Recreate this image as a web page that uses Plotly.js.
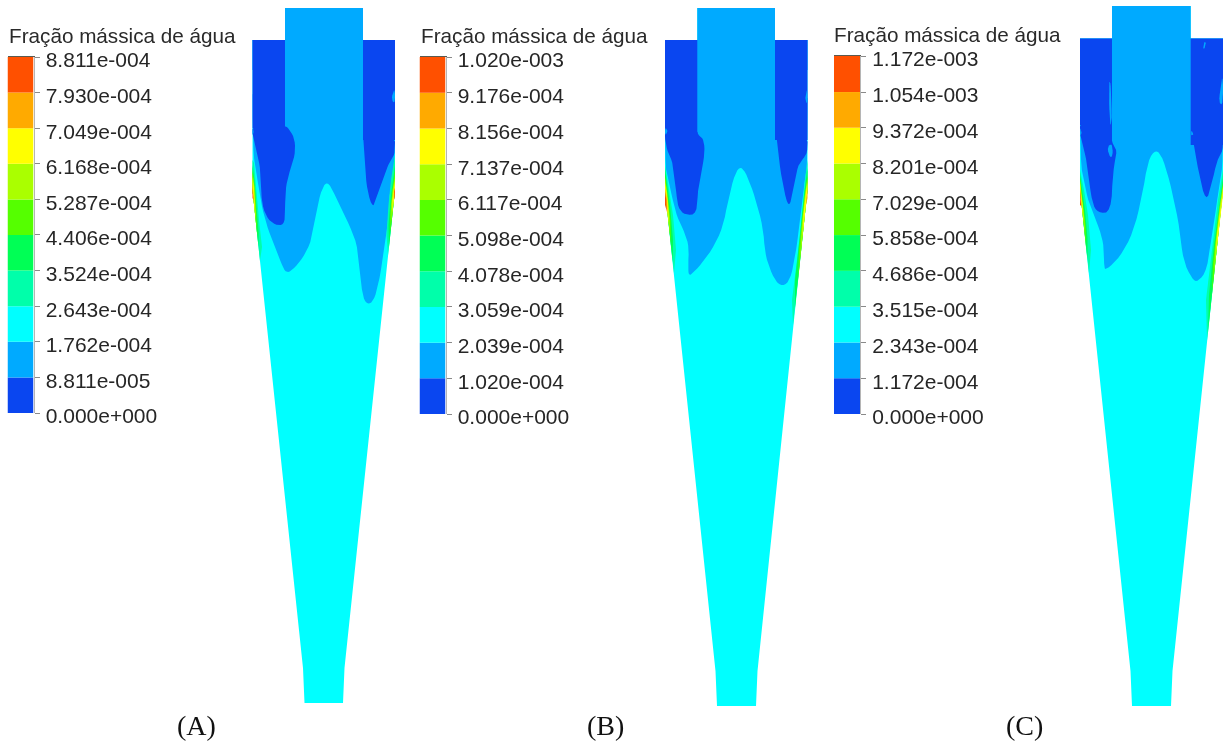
<!DOCTYPE html>
<html>
<head>
<meta charset="utf-8">
<script src="https://cdn.plot.ly/plotly-3.0.1.min.js"></script>
<style>html,body{margin:0;padding:0;background:#fff}#chart{width:1225px;height:742px;filter:blur(0.45px)}</style>
</head>
<body>
<div id="chart"></div>
<script>
// ---------- Colour-scale tick labels ----------
const ticksA = ["8.811e-004","7.930e-004","7.049e-004","6.168e-004","5.287e-004","4.406e-004","3.524e-004","2.643e-004","1.762e-004","8.811e-005","0.000e+000"];
const ticksB = ["1.020e-003","9.176e-004","8.156e-004","7.137e-004","6.117e-004","5.098e-004","4.078e-004","3.059e-004","2.039e-004","1.020e-004","0.000e+000"];
const ticksC = ["1.172e-003","1.054e-003","9.372e-004","8.201e-004","7.029e-004","5.858e-004","4.686e-004","3.515e-004","2.343e-004","1.172e-004","0.000e+000"];
// band colours, lowest band first
const bandColors = ["#0a46f0","#00aaff","#00ffff","#00ffaa","#00ff55","#55ff00","#aaff00","#ffff00","#ffaa00","#ff5000"];
const legendTitle = "Fração mássica de água";
const panelLabels = ["(A)","(B)","(C)"];

// ---------- Contour regions: [x, y] on the sheet ----------
const A_body = [[252.5,40],[252.5,190],[303,668],[304.5,703],[343,703],[344.5,668],[395,190],[395,40],[363,40],[363,8],[285,8],[285,40]];
const A_tube = [[285,8],[363,8],[363,60],[285,60]];
const A_top  = [[252.5,40],[395,40],[395,70],[252.5,70]];
const A_light = [[252.5,60],[395,60],[395,155],[394,170],[390,187],[389,210],[387,230],[380,277],[375,298],[369,305],[363,299],[360,273],[357,243],[347,220],[335,195],[327,180],[320,193],[315,223],[310,245],[300,262],[290,272],[285,272],[280,260],[272,240],[265,220],[260,197],[256,170],[253,152]];
const A_darkL = [[252.5,40],[285,40],[285,128],[252.5,128]];
const A_blobL = [[252.5,125],[285,125],[290,130],[295,140],[295,155],[290,170],[286,185],[285,205],[285,223],[278,226],[268,220],[262,205],[261,185],[260,165],[255,147],[252.5,135]];
const A_darkR = [[363,40],[395,40],[395,140],[363,140]];
const A_blobR = [[363,135],[395,135],[395,153],[392,158],[388,165],[383,180],[378,195],[373,209],[367,190],[365,165],[363.5,140]];
const A_spots = [[[395,88],[392,95],[392,101],[395,103]],[[252.5,127],[254,131],[252.5,136]]];
const A_wall = [
 [[[252.5,160],[252.5,190],[260,261],[262,247],[259,220],[257,197],[254,163]], [[395,155],[395,190],[388,255],[386.5,235],[388.5,205],[391,180]]],
 [[[252.5,165],[252.5,190],[258.5,247],[258.7,233],[256.5,207],[254.5,180]], [[395,165],[395,190],[389,247],[388.5,225],[391,195]]],
 [[[252.5,170],[252.5,190],[257.3,236],[256.7,217],[255.3,193]], [[395,170],[395,190],[390.5,232],[390,215],[392.5,190]]],
 [[[252.5,173],[252.5,190],[256.3,226],[255.3,210],[254.3,187]], [[395,178],[395,190],[391.7,220],[391.3,205],[393,188]]],
 [[[252.5,177],[252.5,190],[255.5,218],[254.7,203],[253.7,187]], [[395,182],[395,190],[392.5,212],[392.5,200],[393.7,190]]],
 [[[252.5,183],[252.5,190],[254.5,208],[253.3,193]], [[395,187],[395,190],[393.8,200],[393.8,195]]],
 [[[252.5,188],[252.5,198],[253.5,200],[253.2,194]], [[395,188],[395,200],[394.5,198],[394.2,192]]]
];

const B_body = [[665,40],[665,190],[715.5,671],[717,706],[756,706],[757.5,671],[807.5,190],[807.5,40],[775,40],[775,8],[697.3,8],[697.3,40]];
const B_tube = [[697.3,8],[775,8],[775,60],[697.3,60]];
const B_top  = [[665,40],[807.5,40],[807.5,70],[665,70]];
const B_light = [[665,60],[807.5,60],[807.5,163],[805,177],[803,197],[798,237],[793,270],[787,285],[778,285],[770,270],[765,253],[763,227],[755,197],[747,175],[741,166],[735,173],[728,200],[723,227],[712,250],[698,268],[689,277],[688,267],[689,247],[685,233],[677,217],[672,197],[668,177],[665,165]];
const B_darkL = [[665,40],[697.3,40],[697.3,135],[665,135]];
const B_blobL = [[665,130],[697.3,130],[698,135],[703,138],[705,150],[702,170],[698,187],[697,214],[685,215],[678,208],[676,190],[673,163],[668,153],[665,140]];
const B_darkR = [[775,40],[807.5,40],[807.5,140],[775,140]];
const B_blobR = [[776,130],[807.5,135],[807.5,153],[802,160],[798,165],[793,190],[789,209],[783,187],[778,153]];
const B_spots = [[[807.5,88],[805.5,95],[805.5,101],[807.5,104]],[[665,127],[668,131],[665,136]]];
const B_wall = [
 [[[665,165],[665,190],[674,273],[676,250],[673,215],[669,190]], [[807.5,160],[807.5,190],[793,325],[792,300],[797,260],[802,215],[805,180]]],
 [[[665,170],[665,190],[672.7,262],[673,240],[670,205],[667,185]], [[807.5,168],[807.5,190],[795,308],[795,280],[800,235],[804,195]]],
 [[[665,175],[665,190],[671,245],[670.5,220],[667.5,195]], [[807.5,175],[807.5,190],[798,280],[799,250],[803.5,205]]],
 [[[665,178],[665,190],[670,235],[669.3,215],[667,192]], [[807.5,178],[807.5,190],[800,261],[802,225],[805,195]]],
 [[[665,183],[665,190],[668.8,226],[668,205],[666.5,192]], [[807.5,182],[807.5,190],[802.5,237],[803.5,215],[806,192]]],
 [[[665,188],[665,190],[668,215],[667,200]], [[807.5,188],[807.5,198],[805.7,207],[806.5,195]]],
 [[[665,192],[665,205],[667,212],[666.3,200]], []]
];

const C_body = [[1080,38.5],[1080,190],[1130.5,671],[1132,706],[1171,706],[1172.5,671],[1223,190],[1223,38.5],[1190.7,38.5],[1190.7,6],[1112,6],[1112,38.5]];
const C_tube = [[1112,6],[1190.7,6],[1190.7,60],[1112,60]];
const C_top  = [[1080,38.5],[1223,38.5],[1223,70],[1080,70]];
const C_light = [[1080,60],[1223,60],[1223,163],[1220,180],[1213,230],[1207,270],[1198,282],[1192,279],[1183,260],[1180,230],[1172,190],[1163,158],[1156,149],[1148,160],[1142,197],[1133,233],[1120,257],[1106,270],[1104,267],[1104,247],[1100,230],[1090,207],[1085,187],[1080,160]];
const C_darkL = [[1080,38.5],[1112,38.5],[1112,125],[1080,125]];
const C_blobL = [[1080,120],[1112,120],[1112,127],[1111.5,143],[1117.5,150],[1113,170],[1111,212],[1098,213],[1092,203],[1088,170],[1085,153],[1080,137]];
const C_darkR = [[1190.7,38.5],[1223,38.5],[1223,145],[1190.7,145]];
const C_blobR = [[1190.7,130],[1223,130],[1223,151],[1217,160],[1212,183],[1206,203],[1198,170],[1194,143]];
const C_spots = [[[1109,80],[1111,85],[1112,125],[1110,125],[1109,100]],[[1107,147],[1112,143],[1113,155],[1110,158]],[[1204,42],[1206,42],[1205,48],[1203,49]],[[1223,73],[1220,90],[1219,103],[1223,105]],[[1080,127],[1082,132],[1080,137]],[[1191,130],[1194,134],[1191,136]]];
const C_wall = [
 [[[1080,170],[1080,190],[1089,273],[1091,250],[1088,215],[1084,190]], [[1223,170],[1223,190],[1207,340],[1206,300],[1212,250],[1218,200]]],
 [[[1080,175],[1080,190],[1087.5,260],[1087.5,238],[1085,210],[1082,190]], [[1223,178],[1223,190],[1208,332],[1209,295],[1214,245],[1220,200]]],
 [[[1080,178],[1080,190],[1086,247],[1085.5,225],[1082,197]], [[1223,183],[1223,190],[1212,294],[1213,262],[1218,218]]],
 [[[1080,180],[1080,190],[1085,235],[1084,215],[1081.5,195]], [[1223,186],[1223,190],[1214,275],[1215.5,245],[1220,205]]],
 [[[1080,183],[1080,190],[1083.5,222],[1082.5,205],[1081,193]], [[1223,188],[1223,195],[1216,255],[1217,235],[1221,205]]],
 [[[1080,187],[1080,190],[1082.5,212],[1081.5,200]], []],
 [[[1080,190],[1080,205],[1081.2,206],[1080.8,197]], []]
];

const W = 1225, H = 742;
const FONT = '"Liberation Sans", Arial, sans-serif';
const traces = [];

// round a traced outline by corner cutting, which cannot cross the walls
function rounded(pts) {
  let out = pts;
  for (let it = 0; it < 2; it++) {
    const nxt = [];
    out.forEach((p, i) => {
      const q = out[(i + 1) % out.length];
      nxt.push([0.75*p[0]+0.25*q[0], 0.75*p[1]+0.25*q[1]]);
      nxt.push([0.25*p[0]+0.75*q[0], 0.25*p[1]+0.75*q[1]]);
    });
    out = nxt;
  }
  return out;
}

function poly(pts, color, curved) {
  if (!pts.length) return;
  const use = curved ? rounded(pts) : pts;
  const x = use.map(p => p[0]).concat([use[0][0]]);
  const y = use.map(p => p[1]).concat([use[0][1]]);
  traces.push({
    type:'scatter', mode:'lines', x, y, xaxis:'x', yaxis:'y',
    fill:'toself', fillcolor:color,
    line:{width:0, color:color},
    hoverinfo:'skip', showlegend:false
  });
}

const cBlue = bandColors[0], cLight = bandColors[1], cCyan = bandColors[2];
const wallColors = bandColors.slice(3);

const panels = [
  {body:A_body,tube:A_tube,top:A_top,light:A_light,darkL:A_darkL,blobL:A_blobL,darkR:A_darkR,blobR:A_blobR,spots:A_spots,wall:A_wall},
  {body:B_body,tube:B_tube,top:B_top,light:B_light,darkL:B_darkL,blobL:B_blobL,darkR:B_darkR,blobR:B_blobR,spots:B_spots,wall:B_wall},
  {body:C_body,tube:C_tube,top:C_top,light:C_light,darkL:C_darkL,blobL:C_blobL,darkR:C_darkR,blobR:C_blobR,spots:C_spots,wall:C_wall}
];
panels.forEach(p => {
  poly(p.body, cCyan, false);
  poly(p.light, cLight, true);
  p.wall.forEach((pair,i) => pair.forEach(s => poly(s, wallColors[i], false)));
  poly(p.top, cLight, false);
  poly(p.tube, cLight, false);
  poly(p.blobL, cBlue, true);
  poly(p.blobR, cBlue, true);
  poly(p.darkL, cBlue, false);
  poly(p.darkR, cBlue, false);
  p.spots.forEach(s => poly(s, cLight, true));
});

// Layout: main sheet axes in reference units
const layout = {
  width:W, height:H, margin:{l:0,r:0,t:0,b:0},
  paper_bgcolor:'#fff', plot_bgcolor:'rgba(0,0,0,0)',
  barmode:'overlay', showlegend:false, hovermode:false,
  xaxis:{domain:[0,1], range:[0,W], visible:false, fixedrange:true},
  yaxis:{domain:[0,1], range:[H,0], visible:false, fixedrange:true},
  annotations:[]
};

// Colour scales: one narrow subplot each, with real value axes
const legends = [
  {ticks:ticksA, x0:7.5, x1:33.5, top:57, bottom:413, titleX:6.5, titleY:35, label:196},
  {ticks:ticksB, x0:419.5, x1:445.5, top:57, bottom:414, titleX:418.5, titleY:35, label:605},
  {ticks:ticksC, x0:834, x1:860, top:56, bottom:414, titleX:832, titleY:34, label:1024}
];
legends.forEach((L,i) => {
  const n = i+2, vals = L.ticks.map(Number), low = vals.slice().reverse();
  const steps = low.slice(1).map((v,k) => v - low[k]);
  traces.push({
    type:'bar', xaxis:'x'+n, yaxis:'y'+n,
    x:steps.map(() => 0.5), y:steps, base:low.slice(0,-1), width:1,
    marker:{color:bandColors, line:{width:0}},
    hoverinfo:'skip', showlegend:false
  });
  layout['xaxis'+n] = {domain:[L.x0/W, L.x1/W], range:[0,1], anchor:'y'+n, side:'top',
    showline:true, linecolor:'#5a5a50', linewidth:1, showgrid:false, zeroline:false,
    ticks:'', showticklabels:false, fixedrange:true};
  layout['yaxis'+n] = {domain:[1-L.bottom/H, 1-L.top/H], range:[0, vals[0]], anchor:'x'+n, side:'right',
    tickmode:'array', tickvals:vals, ticktext:L.ticks,
    ticks:'outside', ticklen:5, tickwidth:1, tickcolor:'#8a8a8a',
    showline:true, linecolor:'rgba(90,90,90,0.45)', linewidth:1, showgrid:false, zeroline:false,
    ticklabelstandoff:2, ticklabelshift:3,
    tickfont:{family:FONT, size:21, color:'#262626'}, fixedrange:true};
  layout.annotations.push({
    xref:'x', yref:'y', x:L.titleX, y:L.titleY, xanchor:'left', yanchor:'middle',
    text:legendTitle, showarrow:false, font:{family:FONT, size:20.7, color:'#2a2a2a'}
  });
  layout.annotations.push({
    xref:'x', yref:'y', x:L.label, y:725, xanchor:'center', yanchor:'middle',
    text:panelLabels[i], showarrow:false, font:{family:'"Liberation Serif", "Times New Roman", serif', size:28, color:'#111'}
  });
});

Plotly.newPlot('chart', traces, layout, {displayModeBar:false, staticPlot:true});
</script>
</body>
</html>
